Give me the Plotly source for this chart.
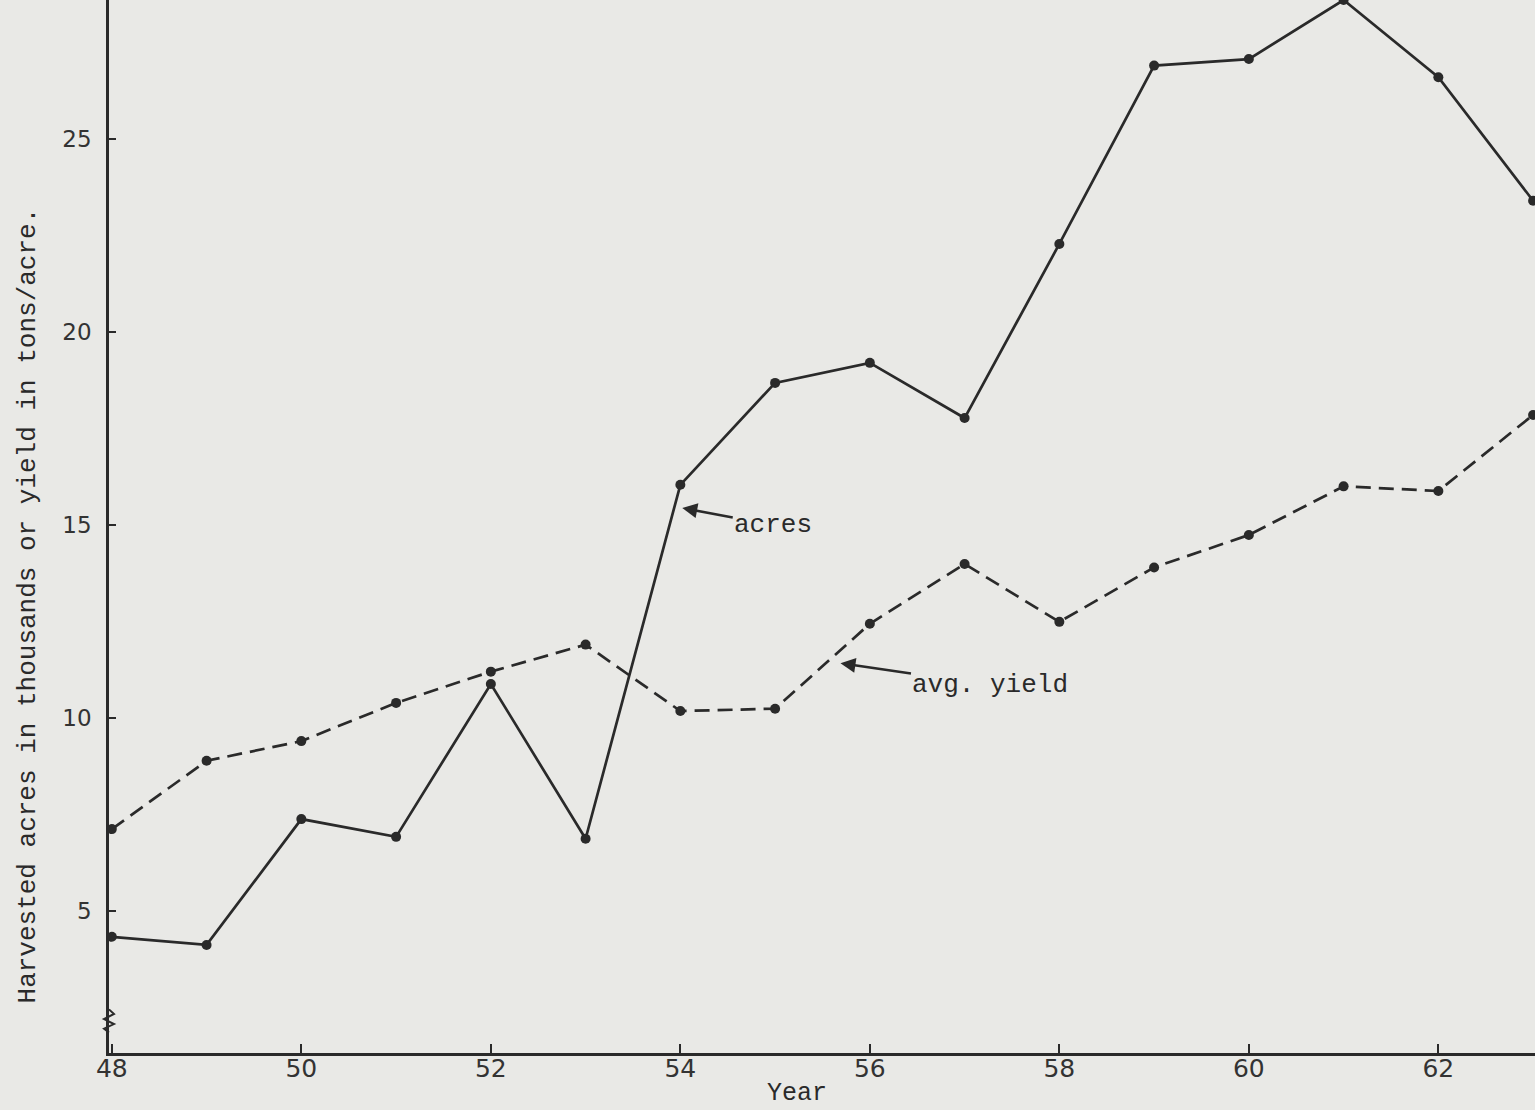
import plotly.graph_objects as go

# Harvested acreage (thousands) and average yield (tons/acre), 1948-1963
years = [48, 49, 50, 51, 52, 53, 54, 55, 56, 57, 58, 59, 60, 61, 62, 63]
acres = [4.33, 4.12, 7.38, 6.92, 10.88, 6.87, 16.04, 18.68, 19.2, 17.77,
         22.28, 26.9, 27.07, 28.6, 26.6, 23.4]
avg_yield = [7.12, 8.89, 9.4, 10.39, 11.2, 11.9, 10.18, 10.24, 12.44, 13.99,
             12.49, 13.9, 14.74, 16.0, 15.88, 17.85]
x_ticks = [48, 50, 52, 54, 56, 58, 60, 62]
y_ticks = [5, 10, 15, 20, 25]

ink = "#2a2a2a"
paper = "#e9e9e6"
mono = "Liberation Mono, Courier New, monospace"
sans = "DejaVu Sans, Arial, sans-serif"

fig = go.Figure()
fig.add_trace(go.Scatter(
    x=years, y=acres, mode="lines+markers",
    line=dict(color=ink, width=2.7),
    marker=dict(color=ink, size=10),
))
fig.add_trace(go.Scatter(
    x=years, y=avg_yield, mode="lines+markers",
    line=dict(color=ink, width=2.7, dash="15px,8px"),
    marker=dict(color=ink, size=10),
))

fig.update_layout(
    width=1535, height=1110,
    margin=dict(l=109, r=0, t=0, b=57),
    paper_bgcolor=paper, plot_bgcolor=paper,
    showlegend=False,
    xaxis=dict(
        range=[47.97, 63.02], tickvals=x_ticks,
        ticktext=[str(v) for v in x_ticks],
        ticks="inside", ticklen=9, tickwidth=2, tickcolor=ink,
        showline=True, linecolor=ink, linewidth=2.5,
        showgrid=False, zeroline=False,
        ticklabelstandoff=-9,
        tickfont=dict(family=sans, size=25, color="#333"),
    ),
    yaxis=dict(
        range=[1.32, 28.6], tickvals=y_ticks,
        ticks="inside", ticklen=7, tickwidth=2, tickcolor=ink,
        showline=True, linecolor=ink, linewidth=2.5,
        showgrid=False, zeroline=False,
        ticklabelstandoff=10,
        tickfont=dict(family=sans, size=23, color="#333"),
    ),
    annotations=[
        dict(text="Harvested acres in thousands or yield in tons/acre.",
             xref="paper", yref="paper", x=0, y=0.425, xshift=-98,
             textangle=-90, showarrow=False,
             font=dict(family=mono, size=26, color=ink)),
        dict(text="Year", xref="paper", yref="paper", x=0.4825, y=0,
             yanchor="middle", yshift=-40, showarrow=False,
             font=dict(family=mono, size=25, color=ink)),
        dict(text="acres", x=54.02, y=15.44, xref="x", yref="y",
             ax=91, ay=17, showarrow=True, arrowhead=2, arrowsize=1.2,
             arrowwidth=2.5, arrowcolor=ink,
             font=dict(family=mono, size=26, color=ink)),
        dict(text="avg. yield", x=55.69, y=11.42, xref="x", yref="y",
             ax=150, ay=22, showarrow=True, arrowhead=2, arrowsize=1.2,
             arrowwidth=2.5, arrowcolor=ink,
             font=dict(family=mono, size=26, color=ink)),
    ],
    shapes=[
        # axis break zigzag near the bottom of the y axis
        dict(type="path", xref="paper", yref="y",
             path="M 0,2.45 L 0.0035,2.33 L -0.0035,2.2 L 0.0035,2.07 "
                  "L -0.0035,1.95 L 0,1.85",
             line=dict(color=ink, width=2)),
    ],
)

fig.write_html("out.html")
